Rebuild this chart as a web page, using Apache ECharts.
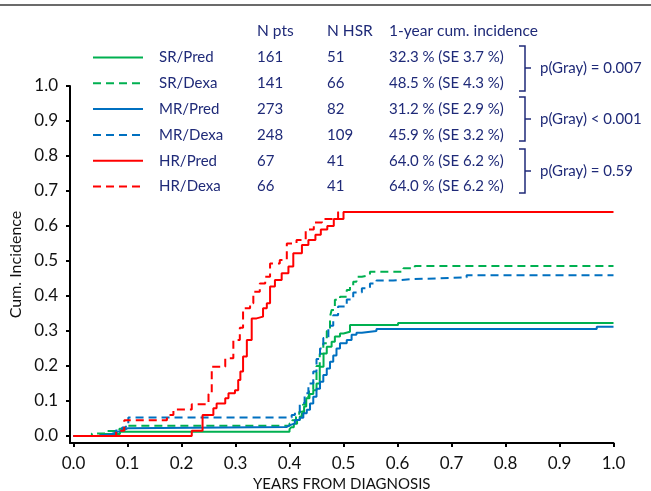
<!DOCTYPE html>
<html>
<head>
<meta charset="utf-8">
<script src="https://cdn.jsdelivr.net/npm/echarts@6/dist/echarts.min.js"></script>
<style>
html,body{margin:0;padding:0;background:#fff;}
#chart{width:651px;height:491px;}
</style>
</head>
<body>
<div id="chart"></div>
<script>
// ---- data ----
const seriesNames = ['SR/Pred', 'SR/Dexa', 'MR/Pred', 'MR/Dexa', 'HR/Pred', 'HR/Dexa'];
const nPts = ['161', '141', '273', '248', '67', '66'];
const nHsr = ['51', '66', '82', '109', '41', '41'];
const incidence = ['32.3 % (SE 3.7 %)', '48.5 % (SE 4.3 %)', '31.2 % (SE 2.9 %)', '45.9 % (SE 3.2 %)', '64.0 % (SE 6.2 %)', '64.0 % (SE 6.2 %)'];
const headers = ['N pts', 'N HSR', '1-year cum. incidence'];
const pValues = ['p(Gray) = 0.007', 'p(Gray) < 0.001', 'p(Gray) = 0.59'];
const xTicks = [0, 0.1, 0.2, 0.3, 0.4, 0.5, 0.6, 0.7, 0.8, 0.9, 1.0];
const yTicks = [0, 0.1, 0.2, 0.3, 0.4, 0.5, 0.6, 0.7, 0.8, 0.9, 1.0];

const srPred = [[0,0],[0.05,0.006],[0.086,0.0124],[0.400,0.019],[0.403,0.025],[0.408,0.035],[0.414,0.046],[0.419,0.056],[0.423,0.065],[0.427,0.084],[0.431,0.108],[0.437,0.12],[0.444,0.131],[0.450,0.15],[0.456,0.198],[0.463,0.236],[0.469,0.255],[0.478,0.269],[0.484,0.284],[0.4935,0.293],[0.500,0.298],[0.512,0.317],[0.601,0.323],[1.0,0.323]];
const srDexa = [[0,0],[0.034,0.007],[0.062,0.014],[0.085,0.021],[0.100,0.029],[0.400,0.036],[0.405,0.045],[0.412,0.055],[0.418,0.069],[0.425,0.09],[0.430,0.112],[0.436,0.13],[0.444,0.155],[0.450,0.2],[0.456,0.235],[0.4626,0.265],[0.469,0.3],[0.475,0.341],[0.478,0.36],[0.484,0.389],[0.4935,0.398],[0.506,0.417],[0.512,0.427],[0.518,0.441],[0.524,0.455],[0.534,0.46],[0.549,0.469],[0.611,0.479],[0.632,0.486],[1.0,0.486]];
const mrPred = [[0,0],[0.05,0.004],[0.065,0.007],[0.075,0.011],[0.08,0.015],[0.088,0.018],[0.095,0.022],[0.100,0.026],[0.395,0.031],[0.401,0.036],[0.410,0.046],[0.419,0.052],[0.4256,0.065],[0.432,0.075],[0.438,0.093],[0.444,0.112],[0.450,0.135],[0.4565,0.155],[0.4626,0.174],[0.469,0.193],[0.475,0.212],[0.481,0.23],[0.487,0.25],[0.4935,0.265],[0.506,0.274],[0.515,0.289],[0.524,0.295],[0.534,0.300],[0.561,0.306],[0.969,0.312],[1.0,0.312]];
const mrDexa = [[0,0],[0.04,0.004],[0.065,0.008],[0.078,0.016],[0.09,0.024],[0.097,0.036],[0.1015,0.053],[0.404,0.06],[0.410,0.067],[0.419,0.094],[0.428,0.122],[0.435,0.15],[0.444,0.184],[0.450,0.22],[0.4565,0.25],[0.4626,0.28],[0.472,0.315],[0.481,0.345],[0.490,0.37],[0.506,0.39],[0.518,0.41],[0.534,0.422],[0.549,0.436],[0.561,0.444],[0.592,0.448],[0.623,0.453],[0.728,0.459],[1.0,0.459]];
const hrPred = [[0,0],[0.219,0.015],[0.239,0.06],[0.259,0.079],[0.265,0.093],[0.281,0.108],[0.287,0.122],[0.299,0.131],[0.305,0.16],[0.309,0.184],[0.314,0.227],[0.321,0.274],[0.330,0.336],[0.339,0.341],[0.351,0.365],[0.358,0.379],[0.364,0.427],[0.373,0.446],[0.3855,0.465],[0.398,0.484],[0.407,0.522],[0.423,0.546],[0.435,0.56],[0.448,0.575],[0.458,0.59],[0.47,0.6],[0.482,0.62],[0.50,0.64],[1.0,0.64]];
const hrDexa = [[0,0],[0.079,0.015],[0.094,0.045],[0.173,0.06],[0.185,0.076],[0.219,0.091],[0.25,0.12],[0.256,0.198],[0.281,0.222],[0.296,0.274],[0.308,0.309],[0.314,0.365],[0.327,0.379],[0.333,0.412],[0.345,0.436],[0.355,0.455],[0.364,0.493],[0.382,0.503],[0.395,0.55],[0.413,0.56],[0.43,0.59],[0.445,0.61],[0.46,0.62],[0.49,0.64],[1.0,0.64]];

const seriesData = [srPred, srDexa, mrPred, mrDexa, hrPred, hrDexa];
const colors = ['#00B050', '#00B050', '#0070C0', '#0070C0', '#FF0000', '#FF0000'];
const dashed = [false, true, false, true, false, true];

// ---- style ----
const FONT = 'Lato';
const NAVY = '#1F2A78';
const TXT = '#111111';

const chart = echarts.init(document.getElementById('chart'), null, {renderer: 'canvas'});

const series = seriesNames.map((name, i) => ({
  name: name,
  type: 'line',
  step: 'end',
  data: seriesData[i],
  symbol: 'none',
  showSymbol: false,
  silent: true,
  color: colors[i],
  lineStyle: {color: colors[i], width: 2, type: dashed[i] ? [8, 5] : 'solid'},
  z: 2 + i
}));

const colX = [257, 327, 389];
const rowsCenter = [68, 119, 171];

const graphics = [
  {type: 'line', shape: {x1: 0, y1: 5, x2: 651, y2: 5}, style: {stroke: '#6b6b6b', lineWidth: 2}, silent: true}
];
headers.forEach((h, i) => {
  graphics.push({type: 'text', x: colX[i], y: 31, style: {text: h, fill: NAVY, font: '15.5px ' + FONT, textVerticalAlign: 'middle', textAlign: 'left'}});
});
const bracketTops = [46, 97, 149];
const bracketBottoms = [91, 141, 193];
pValues.forEach((p, i) => {
  graphics.push({type: 'polyline', shape: {points: [[519, bracketTops[i]], [525, bracketTops[i]], [525, bracketBottoms[i]], [519, bracketBottoms[i]]]}, style: {stroke: NAVY, lineWidth: 1.5, fill: null}});
  graphics.push({type: 'line', shape: {x1: 525, y1: rowsCenter[i], x2: 531, y2: rowsCenter[i]}, style: {stroke: NAVY, lineWidth: 1.5}});
  graphics.push({type: 'text', x: 540, y: rowsCenter[i], style: {text: p, fill: NAVY, font: '15px ' + FONT, textVerticalAlign: 'middle', textAlign: 'left'}});
});

const option = {
  animation: false,
  backgroundColor: '#ffffff',
  textStyle: {fontFamily: FONT},
  grid: {left: 70, right: 37.5, top: 86, bottom: 48, containLabel: false, outerBoundsMode: 'none'},
  legend: {
    orient: 'vertical',
    left: 87,
    top: 45,
    itemWidth: 50,
    itemHeight: 14,
    itemGap: 10.8,
    selectedMode: false,
    data: seriesNames,
    itemStyle: {color: 'rgba(0,0,0,0)', borderWidth: 0, opacity: 0},
    textStyle: {
      color: NAVY, fontSize: 15, fontFamily: FONT,
      rich: {
        s: {width: 11, fontSize: 15, fontFamily: FONT},
        a: {width: 98, color: NAVY, fontSize: 15, fontFamily: FONT},
        b: {width: 70, color: NAVY, fontSize: 15, fontFamily: FONT},
        c: {width: 62, color: NAVY, fontSize: 15, fontFamily: FONT},
        d: {color: NAVY, fontSize: 15, fontFamily: FONT}
      }
    },
    formatter: function (name) {
      const i = seriesNames.indexOf(name);
      return '{s| }{a|' + name + '}{b|' + nPts[i] + '}{c|' + nHsr[i] + '}{d|' + incidence[i] + '}';
    }
  },
  xAxis: {
    type: 'value',
    min: -0.0065,
    max: 1.0,
    splitLine: {show: false},
    axisLine: {show: true, onZero: false, lineStyle: {color: '#000', width: 2}},
    axisTick: {show: true, length: 4, lineStyle: {color: '#000', width: 2}, customValues: xTicks},
    axisLabel: {customValues: xTicks, formatter: v => v.toFixed(1), fontSize: 17, color: TXT, margin: 12, fontFamily: FONT},
    name: 'YEARS FROM DIAGNOSIS',
    nameLocation: 'middle',
    nameGap: 31,
    nameTextStyle: {fontSize: 15, color: TXT, fontFamily: FONT}
  },
  yAxis: {
    type: 'value',
    min: -0.02,
    max: 1.0,
    splitLine: {show: false},
    axisLine: {show: true, onZero: false, lineStyle: {color: '#000', width: 2}},
    axisTick: {show: true, length: 4, lineStyle: {color: '#000', width: 2}, customValues: yTicks},
    axisLabel: {customValues: yTicks, formatter: v => v.toFixed(1), fontSize: 17, color: TXT, margin: 12, fontFamily: FONT},
    name: 'Cum. Incidence',
    nameLocation: 'middle',
    nameGap: 44,
    nameRotate: 90,
    nameTextStyle: {fontSize: 16, color: TXT, fontFamily: FONT}
  },
  graphic: graphics,
  series: series
};
chart.setOption(option);
</script>
</body>
</html>
